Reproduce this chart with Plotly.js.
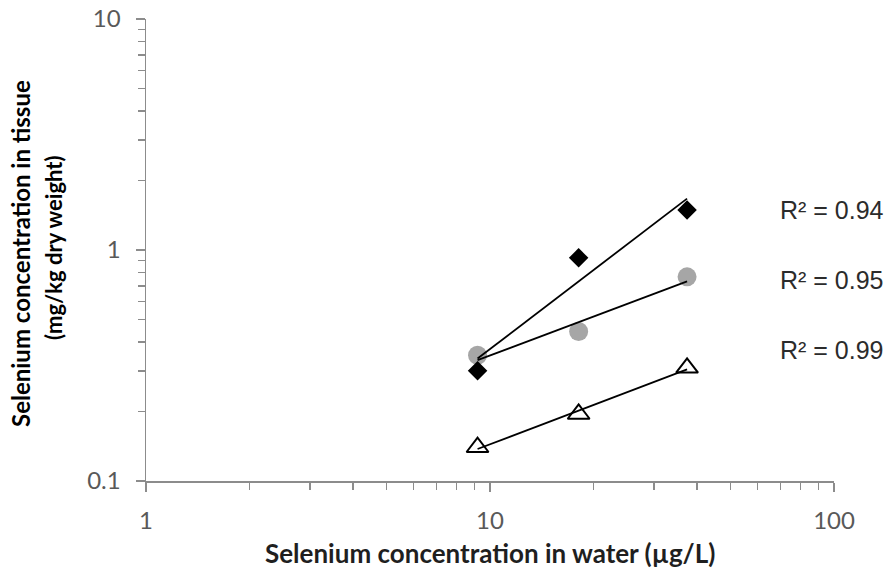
<!DOCTYPE html>
<html>
<head>
<meta charset="utf-8">
<script src="https://cdn.plot.ly/plotly-3.0.1.min.js"></script>
<style>html,body{margin:0;padding:0;background:#fff;}#chart{width:886px;height:572px;}</style>
</head>
<body>
<div id="chart"></div>
<script>
// Data
const waterConc = [9.2, 18.1, 37.4];           // µg/L
const seriesDiamond = [0.30, 0.925, 1.49];     // mg/kg dry weight
const seriesCircle = [0.35, 0.444, 0.765];
const seriesTriangle = [0.140, 0.195, 0.309];
const r2Labels = ["R² = 0.94", "R² = 0.95", "R² = 0.99"];
const xTitle = "Selenium concentration in water (µg/L)";
const yTitleLines = ["Selenium concentration in tissue", "(mg/kg dry weight)"];

// Power-law (Excel "power") trendline fitted from the data
function powerFit(xs, ys) {
  const lx = xs.map(Math.log10), ly = ys.map(Math.log10);
  const n = lx.length;
  const mx = lx.reduce((a, b) => a + b, 0) / n, my = ly.reduce((a, b) => a + b, 0) / n;
  let sxy = 0, sxx = 0;
  for (let i = 0; i < n; i++) { sxy += (lx[i] - mx) * (ly[i] - my); sxx += (lx[i] - mx) ** 2; }
  const b = sxy / sxx, a = my - b * mx;
  const x0 = Math.min(...xs), x1 = Math.max(...xs);
  return { x: [x0, x1], y: [Math.pow(10, a + b * Math.log10(x0)), Math.pow(10, a + b * Math.log10(x1))] };
}

const plotL = 146, plotR = 834, plotT = 19, plotB = 481;
const W = 886, H = 572;
const px = v => (v - plotL) / (plotR - plotL);
const py = v => (plotB - v) / (plotB - plotT);

const traces = [
  { x: waterConc, y: seriesCircle, mode: 'markers', type: 'scatter',
    marker: { symbol: 'circle', size: 19, color: '#a6a6a6', line: { width: 0 } } },
  { x: waterConc, y: seriesDiamond, mode: 'markers', type: 'scatter',
    marker: { symbol: 'diamond', size: 15, color: '#000000', line: { width: 0 } } },
  { x: waterConc, y: seriesTriangle, mode: 'markers', type: 'scatter',
    marker: { symbol: 'triangle-up-open', size: 19, color: '#000000', line: { width: 2, color: '#000' } } }
];
[seriesDiamond, seriesCircle, seriesTriangle].forEach(s => {
  const f = powerFit(waterConc, s);
  traces.push({ x: f.x, y: f.y, mode: 'lines', type: 'scatter', line: { color: '#000', width: 1.8 } });
});

const tickFont = { family: 'Lato, Liberation Sans, Arial, sans-serif', size: 24, color: '#595959' };
const axisCommon = {
  type: 'log', showgrid: false, zeroline: false, showline: true, linecolor: '#8c8c8c', linewidth: 1.5,
  ticks: 'outside', ticklen: 9, tickwidth: 1.5, tickcolor: '#8c8c8c', tickmode: 'linear', dtick: 1,
  tickfont: tickFont, exponentformat: 'none',
  minor: { dtick: 'D1', ticks: 'outside', ticklen: 7, tickwidth: 1.5, tickcolor: '#8c8c8c', showgrid: false }
};

const fam = 'Lato, Liberation Sans, Arial, sans-serif';
const annotations = [
  { text: '<b>' + xTitle + '</b>', xref: 'paper', yref: 'paper', x: px(490), y: py(553),
    xanchor: 'center', yanchor: 'middle', showarrow: false, font: { family: fam, size: 26, color: '#1f1f1f' } },
  { text: '<b>' + yTitleLines[0] + '</b>', xref: 'paper', yref: 'paper', x: px(21), y: py(254),
    xanchor: 'center', yanchor: 'middle', showarrow: false, textangle: -90, font: { family: fam, size: 24, color: '#000' } },
  { text: '<b>' + yTitleLines[1] + '</b>', xref: 'paper', yref: 'paper', x: px(53), y: py(248),
    xanchor: 'center', yanchor: 'middle', showarrow: false, textangle: -90, font: { family: fam, size: 22, color: '#000' } }
];
const r2Y = [210, 280, 350];
r2Labels.forEach((t, i) => annotations.push({
  text: t, xref: 'paper', yref: 'paper', x: px(778), y: py(r2Y[i]), xanchor: 'left', yanchor: 'middle',
  showarrow: false, font: { family: 'Liberation Sans, Arial, sans-serif', size: 25, color: '#2b2b2b' }
}));

const layout = {
  width: W, height: H, showlegend: false,
  paper_bgcolor: '#fff', plot_bgcolor: '#fff',
  margin: { l: plotL, r: W - plotR, t: plotT, b: H - plotB, pad: 0 },
  xaxis: Object.assign({}, axisCommon, { range: [0, 2], ticklabelstandoff: 9 }),
  yaxis: Object.assign({}, axisCommon, { range: [-1, 1], ticklabelstandoff: 10 }),
  annotations: annotations
};

Plotly.newPlot('chart', traces, layout, { staticPlot: true, displayModeBar: false });
</script>
</body>
</html>
